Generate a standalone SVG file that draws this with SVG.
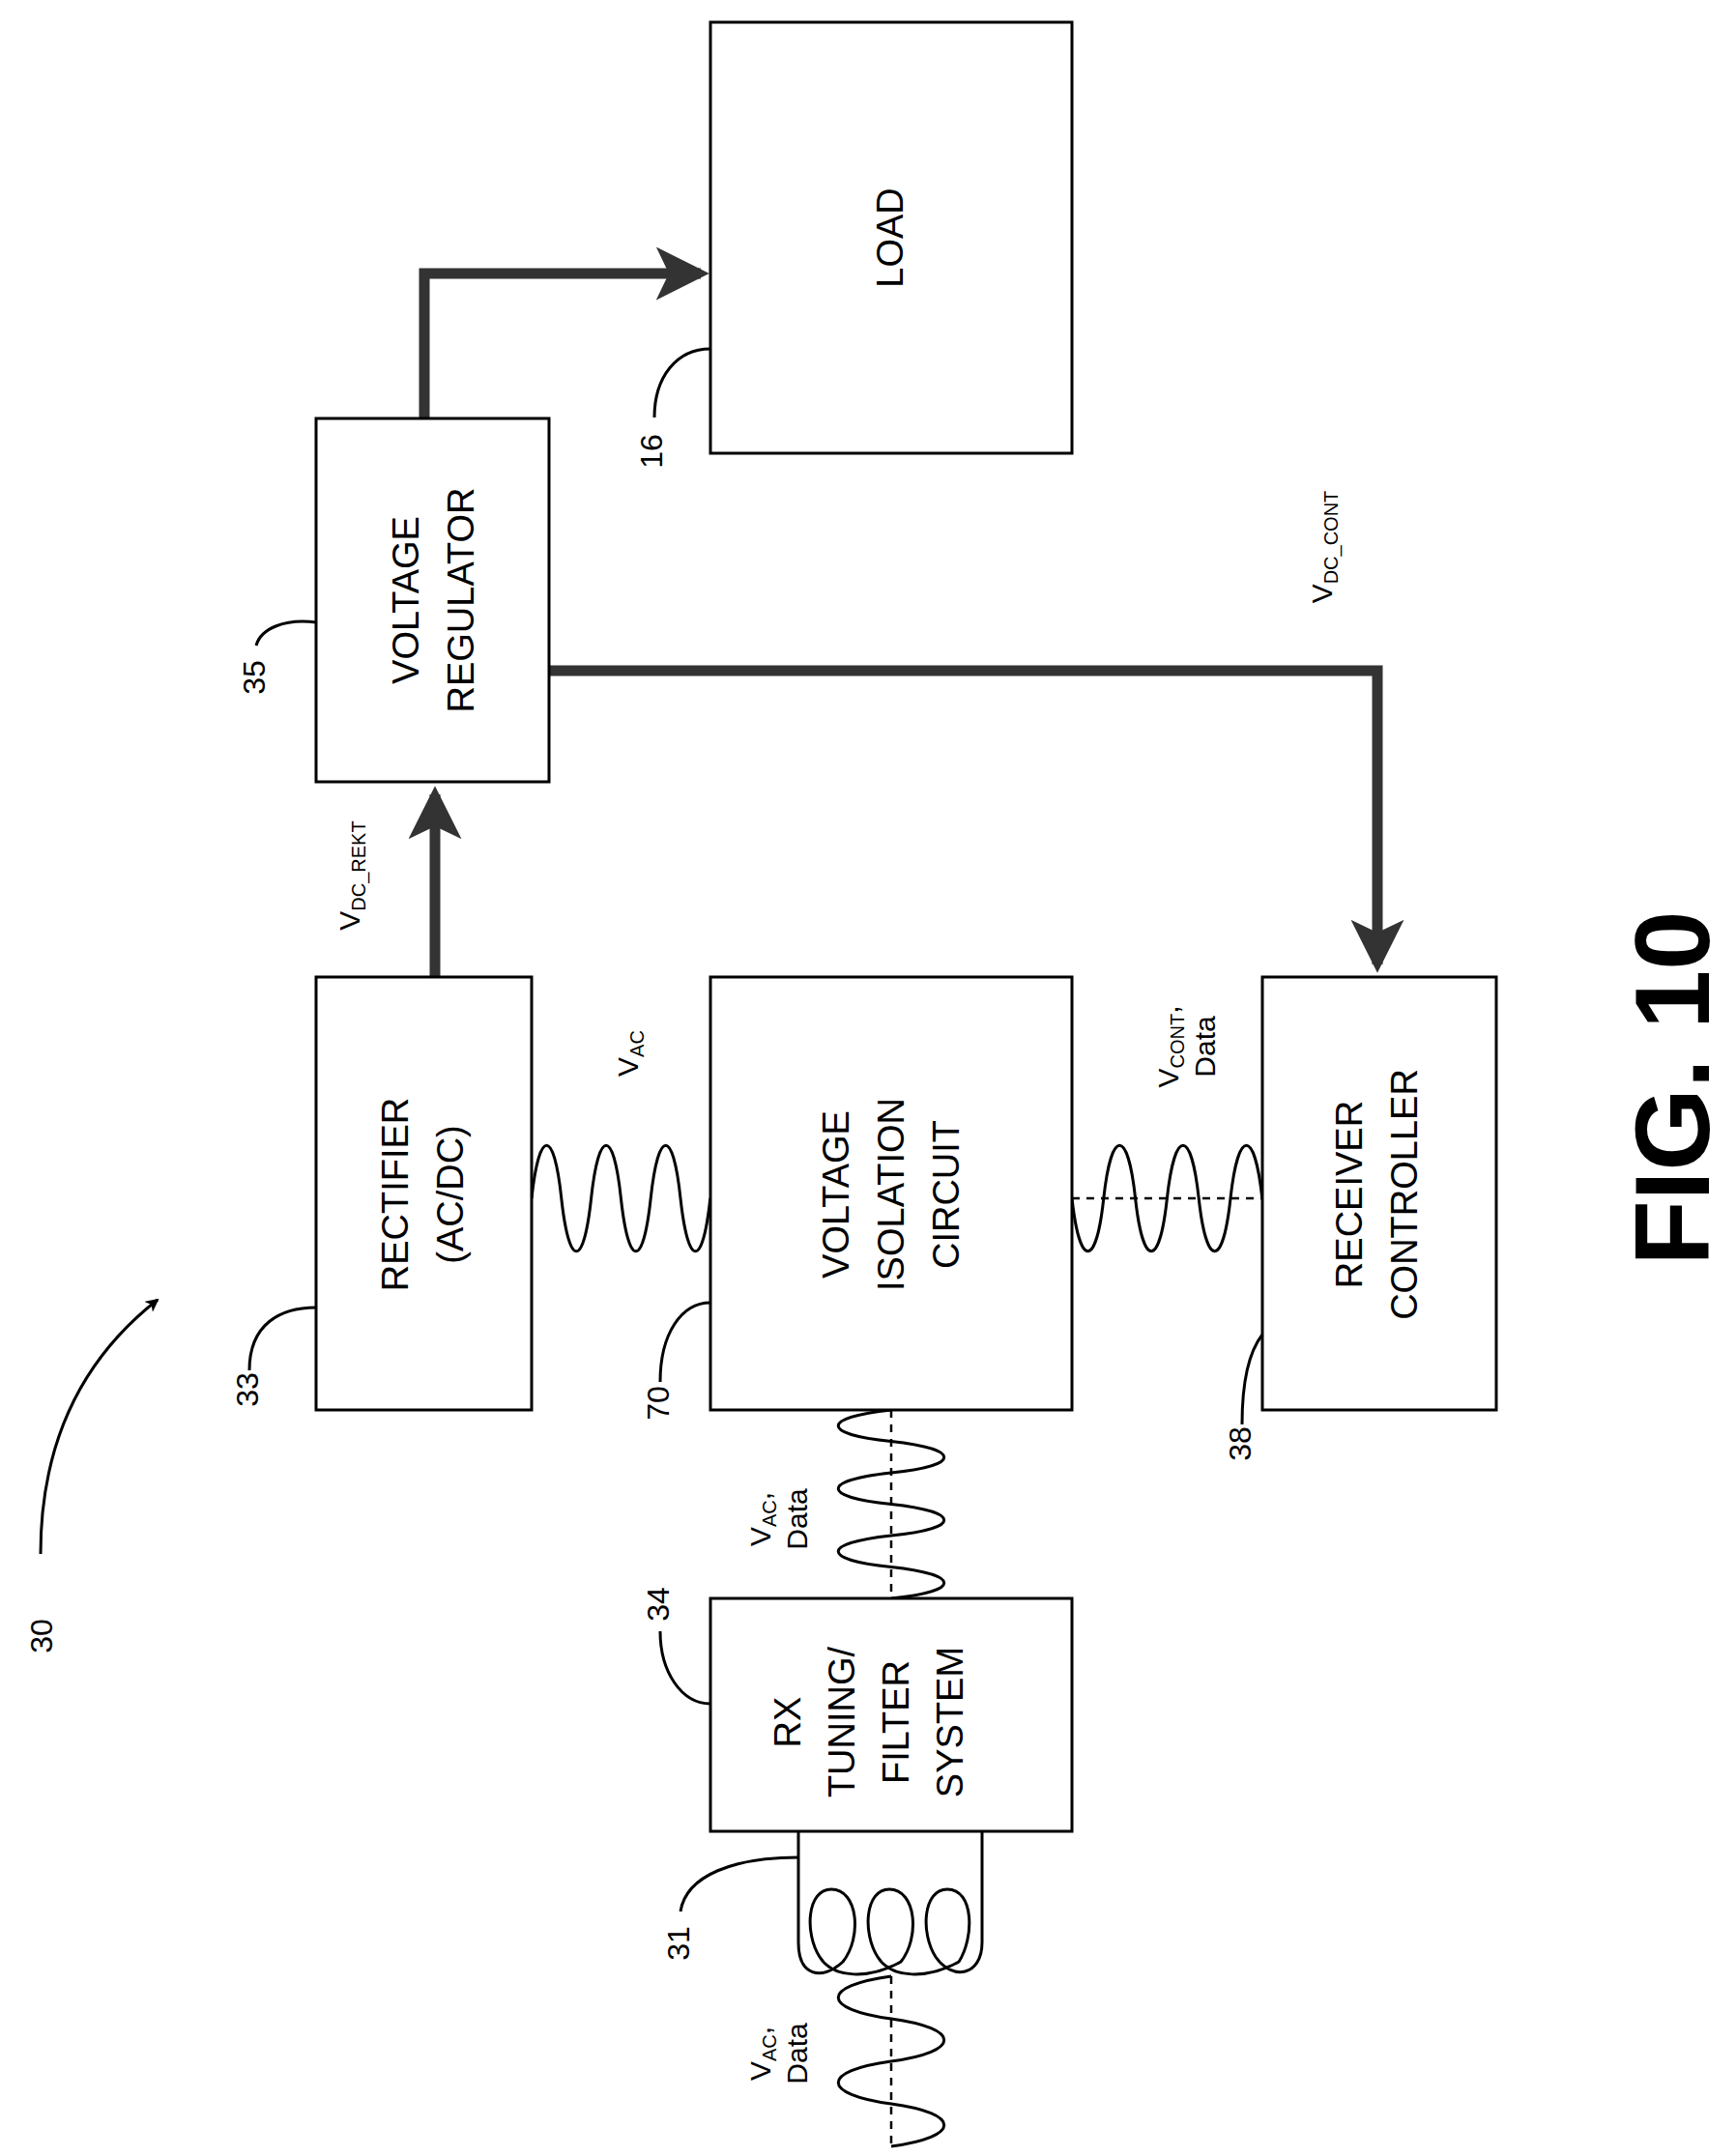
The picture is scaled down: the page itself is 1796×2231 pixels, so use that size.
<svg xmlns="http://www.w3.org/2000/svg" width="1796" height="2231" viewBox="0 0 1796 2231">
<style>
.box{fill:#fff;stroke:#000;stroke-width:3}
.t{font-family:"Liberation Sans",Arial,sans-serif;font-size:38px;text-anchor:middle}
.n{font-family:"Liberation Sans",Arial,sans-serif;font-size:32px;text-anchor:middle}
.s{font-family:"Liberation Sans",Arial,sans-serif;font-size:30px;text-anchor:middle}
.w{fill:none;stroke:#000;stroke-width:3}
.d{fill:none;stroke:#000;stroke-width:2.5;stroke-dasharray:8,7}
.bus{fill:none;stroke:#333;stroke-width:11}
</style>
<defs>
<marker id="big" markerWidth="5" markerHeight="5" refX="4.2" refY="2.5" orient="auto" markerUnits="strokeWidth"><path d="M0,0 L5,2.5 L0,5 L1.2,2.5 Z" fill="#333"/></marker>
<marker id="sm" markerWidth="14" markerHeight="14" refX="12" refY="7" orient="auto" markerUnits="userSpaceOnUse"><path d="M0,0 L14,7 L0,14 L4,7 Z" fill="#000"/></marker>
</defs>
<g id="connectors">
<path class="bus" d="M439,433 V283 H725" marker-end="url(#big)"/>
<path class="bus" d="M450,1011 V822" marker-end="url(#big)"/>
<path class="bus" d="M568,694 H1425 V998" marker-end="url(#big)"/>
<path class="w" d="M550,1240 c8,-73 23,-73 30.8,0 c8,73 23,73 30.8,0 c8,-73 23,-73 30.8,0 c8,73 23,73 30.8,0 c8,-73 23,-73 30.8,0 c8,73 23,73 30.8,0"/>
<path class="w" d="M1109,1240 c8,73 25,73 32.8,0 c8,-73 25,-73 32.8,0 c8,73 25,73 32.8,0 c8,-73 25,-73 32.8,0 c8,73 25,73 32.8,0 c8,-73 25,-73 32.8,0"/>
<path class="d" d="M1109,1240 H1306"/>
<path class="w" d="M922,1459 c-73,8 -73,25 0,32.5 c73,8 73,25 0,32.5 c-73,8 -73,25 0,32.5 c73,8 73,25 0,32.5 c-73,8 -73,25 0,32.5 c73,8 73,25 0,32.5"/>
<path class="d" d="M922,1459 V1654"/>
<path class="w" d="M826,1895 V2010 C826,2045 850,2050 872,2030 C892,2005 888,1955 860,1955 C835,1955 832,2000 848,2025 C862,2048 900,2048 932,2030 C952,2005 948,1955 920,1955 C895,1955 892,2000 908,2025 C922,2048 960,2048 992,2030 C1008,2005 1008,1955 980,1955 C955,1955 952,2000 968,2025 C985,2050 1016,2045 1016,2010 V1895"/>
<path class="w" d="M922,2045 c-73,10 -73,34 0,44 c73,10 73,34 0,44 c-73,10 -73,34 0,44 c73,10 73,34 0,44"/>
<path class="d" d="M922,2045 V2225"/>
<path class="w" d="M258,1418 C258,1370 290,1353 327,1353"/>
<path class="w" d="M683,1430 C683,1380 705,1348 735,1348"/>
<path class="w" d="M1285,1474 C1285,1420 1295,1395 1306,1381"/>
<path class="w" d="M683,1688 C683,1730 705,1763 735,1763"/>
<path class="w" d="M704,1978 C710,1940 760,1922 826,1922"/>
<path class="w" d="M265,668 C270,650 295,640 327,644"/>
<path class="w" d="M677,432 C677,390 700,361 735,361"/>
<path class="w" d="M42,1608 C42,1500 80,1410 163,1345" marker-end="url(#sm)"/>
</g>
<g id="load"><rect class="box" x="735" y="23" width="374" height="446"/><text class="t" transform="translate(934,246) rotate(-90)">LOAD</text></g>
<g id="regulator"><rect class="box" x="327" y="433" width="241" height="376"/><text class="t" transform="translate(433,621) rotate(-90)"><tspan x="0" y="0">VOLTAGE</tspan><tspan x="0" y="57">REGULATOR</tspan></text></g>
<g id="rectifier"><rect class="box" x="327" y="1011" width="223" height="448"/><text class="t" transform="translate(422,1236) rotate(-90)"><tspan x="0" y="0">RECTIFIER</tspan><tspan x="0" y="57">(AC/DC)</tspan></text></g>
<g id="isolation"><rect class="box" x="735" y="1011" width="374" height="448"/><text class="t" transform="translate(878,1236) rotate(-90)"><tspan x="0" y="0">VOLTAGE</tspan><tspan x="0" y="57">ISOLATION</tspan><tspan x="0" y="114">CIRCUIT</tspan></text></g>
<g id="controller"><rect class="box" x="1306" y="1011" width="242" height="448"/><text class="t" transform="translate(1409,1236) rotate(-90)"><tspan x="0" y="0">RECEIVER</tspan><tspan x="0" y="57">CONTROLLER</tspan></text></g>
<g id="rxtuning"><rect class="box" x="735" y="1654" width="374" height="241"/><text class="t" transform="translate(828,1782) rotate(-90)"><tspan x="0" y="0">RX</tspan><tspan x="0" y="56">TUNING/</tspan><tspan x="0" y="112">FILTER</tspan><tspan x="0" y="168">SYSTEM</tspan></text></g>
<g id="labels">
<text class="n" transform="translate(54,1693) rotate(-90)">30</text>
<text class="n" transform="translate(267,1438) rotate(-90)">33</text>
<text class="n" transform="translate(692,1452) rotate(-90)">70</text>
<text class="n" transform="translate(1294,1494) rotate(-90)">38</text>
<text class="n" transform="translate(692,1660) rotate(-90)">34</text>
<text class="n" transform="translate(713,2011) rotate(-90)">31</text>
<text class="n" transform="translate(274,701) rotate(-90)">35</text>
<text class="n" transform="translate(685,467) rotate(-90)">16</text>
<text class="s" transform="translate(660,1090) rotate(-90)">V<tspan font-size="20" dy="6">AC</tspan></text>
<text class="s" transform="translate(372,906) rotate(-90)">V<tspan font-size="20" dy="6">DC_REKT</tspan></text>
<text class="s" transform="translate(1378,566) rotate(-90)">V<tspan font-size="20" dy="6">DC_CONT</tspan></text>
<text class="s" transform="translate(1219,1083) rotate(-90)"><tspan x="0" y="0">V<tspan font-size="20" dy="6">CONT</tspan><tspan dy="-6">,</tspan></tspan><tspan x="0" y="38">Data</tspan></text>
<text class="s" transform="translate(797,1572) rotate(-90)"><tspan x="0" y="0">V<tspan font-size="20" dy="6">AC</tspan><tspan dy="-6">,</tspan></tspan><tspan x="0" y="38">Data</tspan></text>
<text class="s" transform="translate(797,2125) rotate(-90)"><tspan x="0" y="0">V<tspan font-size="20" dy="6">AC</tspan><tspan dy="-6">,</tspan></tspan><tspan x="0" y="38">Data</tspan></text>
<text font-family="Liberation Sans,Arial,sans-serif" font-size="110" font-weight="bold" text-anchor="middle" transform="translate(1768,1126) rotate(-90)">FIG. 10</text>
</g>
</svg>
